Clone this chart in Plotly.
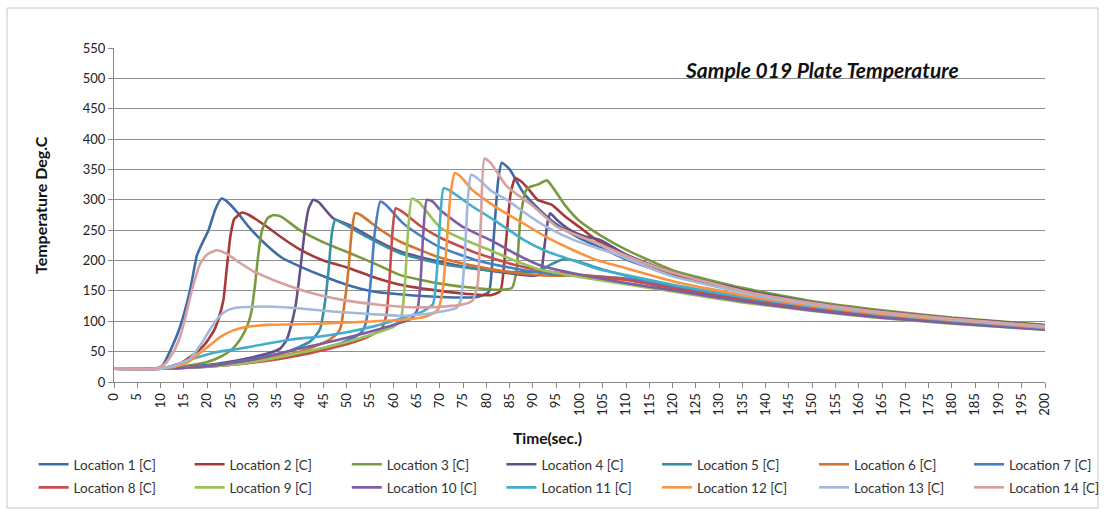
import plotly.graph_objects as go

# ---------------- data ----------------
loc1_t = [0, 9, 10.5, 12, 14.2, 16.3, 17.8, 18.8, 20.3, 21.8, 23.1, 24.3, 26.4, 29, 32, 36, 40, 45, 50, 55, 62, 70, 78,
          80.5, 81.5, 82.5, 83.3, 85, 88, 91.5, 95, 100, 104, 110, 120, 135, 150, 165, 180, 200]
loc1_v = [22, 22, 28, 50, 91, 150, 208, 226, 250, 285, 302, 297, 280, 255, 231, 205, 190, 174, 160, 150, 144, 140, 140,
          148, 230, 330, 361, 350, 311, 283, 260, 237, 223, 202, 175, 149, 129, 115, 104, 92]

loc2_t = [0, 10, 14, 17, 19.5, 21.5, 22.5, 23.5, 24.2, 25, 25.8, 27.5, 29, 32.8, 36, 40, 45, 50.7, 56, 61.5, 70, 76, 81,
          83, 84.2, 85.2, 86.2, 87.5, 89, 91, 94, 97, 100, 104, 110, 120, 135, 150, 165, 180, 200]
loc2_v = [22, 22, 30, 45, 62, 85, 105, 135, 185, 240, 268, 279, 275, 256, 238, 218, 200, 187, 172, 160, 150, 145, 143,
          150, 230, 310, 336, 330, 318, 300, 292, 272, 255, 232, 208, 178, 151, 131, 116, 105, 93]

loc3_t = [0, 10, 15, 20, 23, 25.5, 27.1, 28.5, 29.5, 30.3, 31, 31.8, 33, 34.3, 36, 39.9, 45, 50.7, 56, 61.5, 70, 76, 82,
          85.5, 86.5, 87.3, 88.3, 89, 91, 93, 94.5, 97, 100, 104.4, 110, 120, 135, 150, 165, 180, 200]
loc3_v = [22, 22, 26, 33, 42, 55, 70, 90, 115, 160, 210, 250, 270, 275, 272, 250, 230, 212, 195, 176, 162, 156, 152,
          155, 185, 270, 312, 320, 325, 332, 318, 290, 265, 242, 218, 184, 155, 133, 118, 106, 94]

loc4_t = [0, 10, 20, 28, 33, 35.7, 37, 37.8, 39, 40, 41, 41.8, 42.8, 44, 47, 50.7, 56, 61.5, 70, 78, 85, 90,
          91.6, 92.5, 93.2, 93.7, 95, 98, 101, 104.4, 110, 120, 135, 150, 165, 180, 200]
loc4_v = [22, 22, 28, 38, 47, 55, 68, 86, 125, 184, 250, 285, 300, 296, 270, 258, 235, 215, 198, 186, 179, 175,
          178, 225, 265, 278, 268, 250, 240, 234, 210, 180, 152, 131, 116, 105, 93]

loc5_t = [0, 10, 20, 30, 38, 42, 43.5, 44.3, 45.3, 46.1, 46.8, 47.5, 49, 54.3, 61.5, 70, 78, 86, 91, 94, 96.5, 99,
          103, 110, 120, 135, 150, 165, 180, 200]
loc5_v = [22, 22, 27, 38, 52, 66, 78, 88, 130, 185, 245, 267, 262, 239, 212, 195, 186, 181, 182, 194, 202, 200,
          190, 175, 159, 138, 122, 110, 100, 88]

loc6_t = [0, 10, 20, 30, 40, 46, 48, 48.7, 49.7, 50.4, 51.1, 51.8, 53, 57, 61.5, 70, 78, 86, 94, 100, 104, 110, 120,
          135, 150, 165, 180, 200]
loc6_v = [22, 22, 26, 36, 50, 68, 80, 90, 140, 188, 250, 278, 275, 252, 231, 205, 190, 180, 175, 176, 174, 170, 156,
          136, 121, 109, 99, 88]

loc7_t = [0, 10, 20, 30, 40, 48, 52, 53.5, 54.3, 55.2, 56, 57.2, 58.5, 62, 66, 70, 78, 86, 94, 100, 110, 120, 135,
          150, 165, 180, 200]
loc7_v = [22, 22, 25, 33, 46, 62, 75, 85, 105, 170, 245, 297, 291, 262, 240, 222, 200, 187, 178, 175, 170, 156, 136,
          121, 109, 99, 88]

loc8_t = [0, 10, 20, 30, 40, 50, 55, 57.5, 58.5, 59.2, 59.8, 60.5, 62, 66, 70, 78, 86, 94, 100, 110, 120, 135, 150,
          165, 180, 200]
loc8_v = [22, 22, 25, 32, 44, 62, 76, 88, 110, 170, 245, 286, 280, 256, 238, 212, 193, 181, 176, 168, 154, 135, 120,
          108, 98, 87]

loc9_t = [0, 10, 20, 30, 40, 50, 56, 60, 61.5, 62.4, 63.1, 64, 65.5, 70, 75, 80.8, 86, 91.6, 100, 110, 120, 135, 150,
          165, 180, 200]
loc9_v = [22, 22, 25, 33, 48, 66, 80, 91, 100, 150, 240, 302, 296, 255, 235, 217, 200, 185, 173, 161, 149, 131, 117,
          105, 96, 86]

loc10_t = [0, 10, 20, 30, 40, 50, 60, 64, 65.2, 65.8, 66.4, 67.2, 68.5, 70.1, 75, 80.8, 86, 91.6, 100, 110, 120, 135,
           150, 165, 180, 200]
loc10_v = [22, 22, 26, 37, 55, 73, 94, 105, 120, 160, 240, 300, 297, 283, 255, 234, 212, 192, 177, 163, 151, 133,
           118, 106, 97, 86]

loc11_t = [0, 10, 13, 15, 18.5, 22, 27, 32.8, 38, 44.3, 50, 56, 61.5, 66, 68.5, 69.3, 70, 70.8, 72, 77, 82, 88, 93,
           98.7, 104, 110, 120, 135, 150, 165, 180, 200]
loc11_v = [22, 22, 26, 33, 42, 49, 55, 63, 70, 75, 82, 92, 104, 115, 128, 175, 260, 319, 316, 289, 265, 234, 215,
           200, 186, 176, 160, 140, 124, 111, 101, 89]

loc12_t = [0, 10, 13, 16, 18.5, 21, 23, 25.6, 28, 32.8, 40, 50, 61.5, 67, 69.5, 70.6, 71.5, 72.3, 73.2, 74.5, 77, 82,
           88, 93, 98.7, 104, 108.7, 120, 135, 150, 165, 180, 200]
loc12_v = [22, 22, 25, 33, 48, 63, 75, 85, 90, 94, 95, 98, 102, 108, 118, 150, 230, 310, 344, 338, 316, 288, 261,
           238, 217, 200, 190, 166, 143, 126, 112, 102, 90]

loc13_t = [0, 10, 13, 16.3, 18.5, 20.6, 22, 23.5, 25, 27.1, 30, 34.2, 40, 47, 55, 61.5, 67, 71, 73.6, 74.5, 75.3, 76,
           76.7, 78, 81, 84.4, 88, 93, 98.7, 104, 108.7, 115, 120, 135, 150, 165, 180, 200]
loc13_v = [22, 22, 27, 38, 60, 86, 102, 114, 120, 123, 124, 124, 121, 116, 112, 109, 112, 117, 122, 135, 200, 300,
           341, 336, 315, 300, 280, 255, 234, 220, 208, 188, 174, 147, 128, 114, 103, 91]

loc14_t = [0, 9, 11, 12.8, 14.2, 15.3, 16.3, 17.5, 18.5, 20, 22, 24, 27.1, 30, 34.2, 40, 44.3, 50, 56, 61.5, 68, 74.5,
           77, 78.1, 78.8, 79.6, 81, 84.4, 90, 95.1, 100, 104, 108.7, 115, 120, 135, 150, 165, 180, 200]
loc14_v = [22, 22, 30, 50, 75, 105, 138, 172, 195, 210, 217, 212, 196, 182, 168, 152, 143, 134, 128, 124, 123, 127,
           134, 160, 260, 368, 360, 322, 290, 256, 240, 228, 212, 193, 180, 150, 130, 115, 104, 92]

series_names = [f"Location {i} [C]" for i in range(1, 15)]
series_colors = ["#3E6CA8", "#A63A39", "#7A9A3F", "#654F87", "#3590A6", "#D4742D", "#4A7EC2",
                 "#C54E4B", "#9BC15A", "#7E5DA6", "#45ADCC", "#F99441", "#A3B9DC", "#D9A0A0"]
series_t = [loc1_t, loc2_t, loc3_t, loc4_t, loc5_t, loc6_t, loc7_t,
            loc8_t, loc9_t, loc10_t, loc11_t, loc12_t, loc13_t, loc14_t]
series_v = [loc1_v, loc2_v, loc3_v, loc4_v, loc5_v, loc6_v, loc7_v,
            loc8_v, loc9_v, loc10_v, loc11_v, loc12_v, loc13_v, loc14_v]

x_ticks = list(range(0, 201, 5))
y_ticks = list(range(0, 551, 50))

# ---------------- figure ----------------
W, H = 1104, 511
L, R, T, B = 114, 59, 48, 129
pw, ph = W - L - R, H - T - B


def px_x(p):
    return (p - L) / pw


def px_y(p):
    return (H - B - p) / ph


FONT = "Lato, 'Open Sans', sans-serif"

fig = go.Figure()
for i, (name, col, t, v) in enumerate(zip(series_names, series_colors, series_t, series_v)):
    col_idx = i % 7
    legend_id = "legend" if col_idx == 0 else f"legend{col_idx + 1}"
    fig.add_trace(go.Scatter(
        x=t, y=v, mode="lines", name=name,
        line=dict(color=col, width=2.6, shape="spline", smoothing=0.5),
        legend=legend_id, legendgroup=f"g{i}",
    ))

col_starts = [38.6, 194.6, 351.8, 506.4, 662, 819, 974]
legend_layout = {}
for k, cx in enumerate(col_starts):
    key = "legend" if k == 0 else f"legend{k + 1}"
    legend_layout[key] = dict(
        x=px_x(cx - 5), xanchor="left",
        y=px_y(449), yanchor="top",
        orientation="v", tracegroupgap=2.5,
        bgcolor="rgba(0,0,0,0)",
        font=dict(family=FONT, size=13.5, color="#333333"),
    )

fig.update_layout(
    width=W, height=H,
    margin=dict(l=L, r=R, t=T, b=B, autoexpand=False),
    paper_bgcolor="white", plot_bgcolor="white",
    showlegend=True,
    **legend_layout,
    xaxis=dict(
        range=[0, 200], tickmode="array", tickvals=x_ticks, ticktext=[str(v) for v in x_ticks],
        tickangle=-90, ticks="outside", ticklen=5, tickcolor="#888888",
        showline=True, linecolor="#888888", linewidth=1,
        showgrid=False, zeroline=False, automargin=False,
        tickfont=dict(family=FONT, size=13, color="#222222"),
    ),
    yaxis=dict(
        range=[0, 550], tickmode="array", tickvals=y_ticks,
        ticks="outside", ticklen=5, tickcolor="#888888",
        showline=True, linecolor="#888888", linewidth=1,
        showgrid=True, gridcolor="#8f8f8f", gridwidth=1, zeroline=False, automargin=False,
        tickfont=dict(family=FONT, size=13, color="#222222"),
    ),
    annotations=[
        dict(text="<b><i>Sample 019 Plate Temperature</i></b>", xref="paper", yref="paper",
             x=px_x(822), y=px_y(70), showarrow=False, xanchor="center", yanchor="middle",
             font=dict(family=FONT, size=21, color="#111111")),
        dict(text="<b>Temperature Deg.C</b>", xref="paper", yref="paper",
             x=px_x(40), y=px_y(205), showarrow=False, textangle=-90, xanchor="center", yanchor="middle",
             font=dict(family=FONT, size=16, color="#111111")),
        dict(text="<b>Time(sec.)</b>", xref="paper", yref="paper",
             x=px_x(547), y=px_y(438), showarrow=False, xanchor="center", yanchor="middle",
             font=dict(family=FONT, size=15.5, color="#111111")),
    ],
    shapes=[
        dict(type="rect", xref="paper", yref="paper",
             x0=px_x(7), x1=px_x(1098), y0=px_y(508), y1=px_y(8),
             line=dict(color="#c8c8c8", width=1), fillcolor="rgba(0,0,0,0)", layer="below"),
    ],
)

fig.write_html(
    "out.html",
    config={"displayModeBar": False},
    post_script="document.body.style.margin='0';document.body.style.padding='0';"
                "document.documentElement.style.overflow='hidden';",
)
